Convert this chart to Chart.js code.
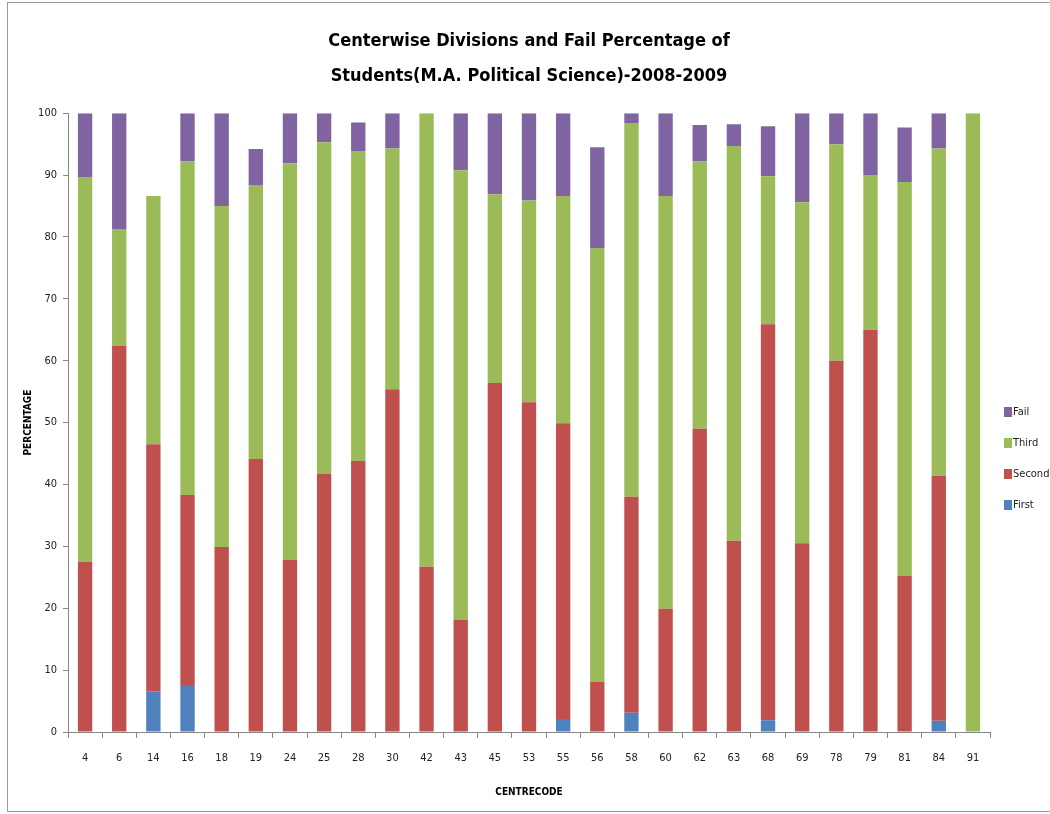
<!DOCTYPE html>
<html>
<head>
<meta charset="utf-8">
<script src="https://cdn.jsdelivr.net/npm/chart.js@4"></script>
<style>
  body { margin: 0; background: #fff; }
</style>
</head>
<body>
<canvas id="divChart" width="1050" height="814"></canvas>
<script>
// Centre codes and division percentages
const centres = ["4", "6", "14", "16", "18", "19", "24", "25", "28", "30", "42", "43", "45", "53",
  "55", "56", "58", "60", "62", "63", "68", "69", "78", "79", "81", "84", "91"];
const first = [0, 0, 6.6, 7.6, 0, 0, 0, 0, 0, 0, 0, 0, 0, 0,
  2.1, 0, 3.1, 0, 0, 0, 1.9, 0, 0, 0, 0, 1.8, 0];
const second = [27.5, 62.4, 39.9, 30.7, 29.9, 44.1, 27.8, 41.7, 43.8, 55.4, 26.7, 18.1, 56.4, 53.3,
  47.8, 8.1, 34.9, 19.9, 49.0, 30.9, 64.0, 30.5, 60.0, 65.0, 25.2, 39.6, 0];
const third = [62.2, 18.9, 40.1, 53.9, 55.1, 44.3, 64.1, 53.6, 50.1, 38.9, 73.3, 72.7, 30.5, 32.6,
  36.7, 70.1, 60.4, 66.7, 43.2, 63.8, 23.9, 55.1, 35.0, 25.0, 63.7, 52.9, 100];
const fail = [10.3, 18.7, 0, 7.8, 15.0, 5.8, 8.1, 4.7, 4.6, 5.7, 0, 9.2, 13.1, 14.1,
  13.4, 16.3, 1.6, 13.4, 5.9, 3.5, 8.1, 14.4, 5.0, 10.0, 8.8, 5.7, 0];

const fontFam = "'Liberation Sans Narrow', 'DejaVu Sans Condensed', 'Liberation Sans', sans-serif";
const axisGrey = "#868686";

// frame round the chart and a legend on the right, in reverse order
const frame = {
  id: "frame",
  beforeDraw(chart) {
    const c = chart.ctx;
    c.save();
    c.strokeStyle = "#9a9a9a";
    c.lineWidth = 1;
    c.strokeRect(7.5, 2.5, 1050, 809);
    c.restore();
  },
  afterDraw(chart) {
    const c = chart.ctx;
    const sets = chart.data.datasets.slice().reverse();
    c.save();
    c.font = "11px " + fontFam;
    c.textBaseline = "middle";
    sets.forEach((ds, i) => {
      const y = 412 + i * 31;
      c.fillStyle = ds.backgroundColor;
      c.fillRect(1004, y - 5, 8, 10);
      c.fillStyle = "#222";
      c.fillText(ds.label, 1013, y);
    });
    c.restore();
  }
};

new Chart(document.getElementById("divChart").getContext("2d"), {
  type: "bar",
  data: {
    labels: centres,
    datasets: [
      { label: "First", data: first, backgroundColor: "#4F81BD" },
      { label: "Second", data: second, backgroundColor: "#C0504D" },
      { label: "Third", data: third, backgroundColor: "#9BBB59" },
      { label: "Fail", data: fail, backgroundColor: "#8064A2" },
    ],
  },
  options: {
    responsive: false,
    animation: false,
    layout: { padding: { left: 10, right: 60, top: 0, bottom: 10 } },
    datasets: { bar: { categoryPercentage: 1, barPercentage: 0.42 } },
    plugins: {
      legend: { display: false },
      tooltip: { enabled: false },
      title: {
        display: true,
        fullSize: false,
        text: ["Centerwise Divisions and Fail Percentage of", "Students(M.A. Political Science)-2008-2009"],
        color: "#000",
        font: { family: fontFam, size: 18, weight: "bold", lineHeight: 1.95 },
        padding: { top: 24, bottom: 19 },
      },
    },
    scales: {
      x: {
        stacked: true,
        grid: { display: true, drawOnChartArea: false, offset: true, color: axisGrey, tickLength: 6 },
        border: { color: axisGrey },
        ticks: { color: "#222", font: { family: fontFam, size: 11 }, padding: 14, maxRotation: 0 },
        title: {
          display: true, text: "CENTRECODE", color: "#000",
          font: { family: fontFam, size: 10, weight: "bold", lineHeight: 1.2 },
          padding: { top: 0, bottom: 6 },
        },
        afterFit(s) { s.height = 72; },
      },
      y: {
        stacked: true,
        min: 0,
        max: 100,
        grid: { display: true, drawOnChartArea: false, color: axisGrey, tickLength: 5 },
        border: { color: axisGrey },
        ticks: { stepSize: 10, color: "#222", font: { family: fontFam, size: 11 }, padding: 6 },
        title: {
          display: true, text: "PERCENTAGE", color: "#000",
          font: { family: fontFam, size: 10, weight: "bold", lineHeight: 1.2 },
          padding: { top: 12, bottom: 0 },
        },
        afterFit(s) { s.width = 58; },
      },
    },
  },
  plugins: [frame],
});
</script>
</body>
</html>
